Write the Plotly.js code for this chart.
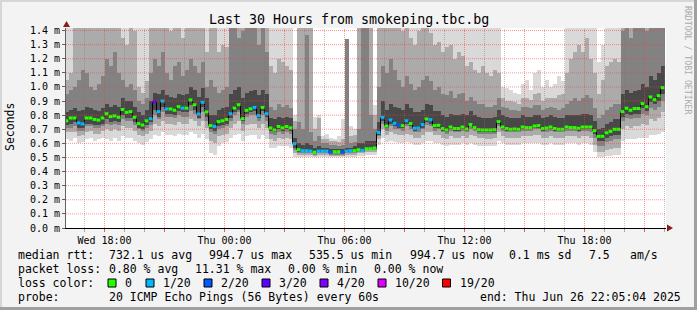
<!DOCTYPE html>
<html>
<head>
<meta charset="utf-8">
<script src="https://cdn.plot.ly/plotly-3.0.1.min.js"></script>
<style>
html,body{margin:0;padding:0;background:#f3f3f3;overflow:hidden;}
#chart{width:697px;height:310px;}
</style>
</head>
<body>
<div id="chart"></div>
<script>
// ================= DATA =================
// 12-minute RRD steps starting Wed 2025-06-25 16:00 (UTC-agnostic)
const firstColumnStart = Date.UTC(2025, 5, 25, 16, 0, 0);
const columnMinutes = 12;

// median RTT per step, microseconds
const medianUs = [
 760,780,780,745,738,780,780,770,765,780,
 810,790,795,785,840,820,825,785,740,730,
 760,775,895,825,900,844,844,835,860,850,
 850,908,874,808,891,823,726,720,754,760,
 770,810,850,874,775,834,845,855,797,855,
 810,709,695,720,710,720,710,598,555,548,
 548,545,537,545,545,545,537,541,541,537,
 545,548,548,555,550,562,562,567,678,785,
 723,766,742,730,726,760,740,707,709,733,
 773,768,726,728,705,695,716,705,705,716,
 702,733,712,697,695,695,695,697,754,716,
 705,700,702,700,716,712,712,723,726,705,
 709,716,705,700,700,716,712,712,707,716,
 716,716,690,650,650,675,685,700,700,825,
 849,835,847,847,882,860,929,910,938,995];

// packet loss class per step (index into lossLabels)
const lossLevel = [
 0,0,0,1,1,0,0,0,0,0,
 0,0,0,0,0,0,0,0,0,0,
 0,1,3,1,1,1,0,0,0,1,
 0,0,0,1,1,0,0,1,0,0,
 0,1,0,0,0,0,0,1,1,0,
 1,0,0,0,0,0,0,1,0,1,
 1,1,0,1,1,1,2,0,0,2,
 1,1,0,0,1,0,0,0,1,1,
 0,1,1,2,0,1,0,1,1,1,
 0,1,0,0,0,0,0,0,0,0,
 0,0,0,0,0,0,0,0,0,0,
 0,0,0,0,0,0,0,0,0,0,
 0,0,0,0,0,0,0,0,0,0,
 0,0,0,0,0,0,0,0,0,0,
 0,0,0,0,0,0,0,0,0,0];
const lossLabels = ['0','1/20','2/20','3/20','4/20','10/20','19/20'];
const lossColors = ['#26ff00','#00b8ff','#0059ff','#5e00ff','#7e00ff','#dd00ff','#ff0000'];

// smoke: sorted-ping band edges per step, units of 10 microseconds
const smokeMin = [
 63,62,64,60,61,63,64,62,63,64, 63,62,64,62,65,64,64,62,60,59,
 61,63,66,65,68,66,66,65,67,66, 66,68,67,64,67,63,53,52,58,60,
 61,64,66,67,62,65,66,66,63,66, 63,57,57,58,58,58,57,50,50,50,
 50,50,50,50,50,50,50,50,50,50, 50,50,50,51,51,52,52,52,59,64,
 61,62,61,60,60,61,60,59,59,60, 62,62,60,60,59,58,59,59,59,60,
 59,60,59,58,58,58,58,58,62,60, 59,59,59,59,60,60,60,60,60,59,
 59,60,59,59,59,60,60,60,59,60, 60,59,54,50,50,51,51,52,52,62,
 63,63,63,64,64,64,66,66,67,68];
const smokeLow2 = [
 68,68,68,65,66,68,69,67,67,69, 70,69,70,69,72,71,71,69,66,65,
 67,69,74,72,76,74,74,73,75,74, 74,77,76,72,76,71,62,60,65,66,
 67,71,74,76,69,73,74,74,71,74, 71,63,62,64,63,64,63,53,52,52,
 52,52,51,52,52,52,51,51,51,51, 52,52,52,53,53,54,54,54,63,70,
 66,68,67,66,66,67,66,64,64,66, 68,68,66,66,64,63,65,64,64,65,
 64,66,65,64,64,63,63,64,68,65, 64,64,64,64,65,65,65,66,66,64,
 64,65,64,64,64,65,65,65,64,65, 65,64,59,54,54,55,56,57,57,70,
 72,71,72,72,74,73,77,76,78,82];
const smokeLow3 = [
 71,71,72,69,69,72,72,71,71,72, 74,73,74,73,77,76,76,73,70,69,
 71,73,80,77,82,79,79,78,80,79, 79,83,81,77,82,76,68,67,70,71,
 72,76,80,82,74,79,80,80,76,80, 76,67,66,68,67,68,67,55,53,53,
 53,53,52,53,53,53,52,52,52,52, 53,53,53,54,54,55,55,55,65,74,
 69,72,70,70,69,72,70,68,68,70, 73,72,69,70,68,67,69,68,68,69,
 68,70,69,67,67,67,67,67,72,69, 68,68,68,68,69,69,69,70,70,68,
 68,69,68,68,68,69,69,69,68,69, 69,68,64,58,58,61,62,63,63,76,
 78,77,78,78,81,80,85,84,86,90];
const smokeLow4 = [
 73,74,75,71,71,74,74,73,73,74, 77,75,76,75,80,78,78,75,71,70,
 73,75,84,79,86,81,81,80,83,82, 82,87,84,78,86,79,70,69,72,73,
 74,78,82,84,76,81,82,83,78,83, 79,69,68,70,69,70,69,57,54,54,
 54,54,53,54,54,54,53,53,53,53, 54,54,54,55,55,56,56,56,66,76,
 71,74,72,71,71,74,72,69,70,71, 75,74,71,71,69,68,70,69,69,70,
 69,72,70,68,68,68,68,68,74,70, 69,69,69,69,70,70,70,71,71,69,
 70,70,69,69,69,70,70,70,69,70, 70,70,67,62,62,64,65,66,66,79,
 81,80,81,81,85,83,89,88,90,95];
const smokeHigh4 = [
 82,84,85,83,84,86,85,84,83,85, 88,86,87,86,92,90,90,86,82,80,
 84,90,96,95,98,94,93,92,95,94, 95,100,98,93,99,92,80,80,84,85,
 86,95,98,100,92,96,97,98,94,98, 95,78,77,79,78,79,78,64,60,59,
 60,59,57,58,57,57,56,56,56,56, 57,57,58,60,60,62,62,62,75,90,
 84,88,86,85,84,88,85,82,82,84, 88,87,83,83,80,79,81,80,80,81,
 80,83,80,79,78,78,78,79,84,80, 79,78,78,78,80,79,79,80,80,78,
 79,80,79,78,78,80,80,80,80,81, 81,80,76,70,71,74,75,77,77,95,
 98,96,97,98,102,100,108,105,110,115];
const smokeHigh3 = [
 95,98,100,105,112,110,100,98,102,108, 120,115,125,110,105,100,102,98,90,88,
 92,110,120,115,125,110,105,115,118,108, 112,120,115,110,118,100,105,100,96,98,
 100,150,150,135,140,150,145,150,130,150, 125,86,84,88,86,87,85,70,75,70,
 137,68,62,65,60,60,59,59,58,59, 134,60,61,70,150,150,80,70,100,115,
 110,120,112,105,100,108,102,98,100,105, 108,104,98,100,95,94,97,92,95,96,
 90,93,90,88,88,86,86,87,92,86, 85,84,84,83,86,86,85,87,87,84,
 85,86,85,84,85,88,90,92,90,92, 94,92,85,78,80,84,86,88,88,140,
 150,135,150,145,150,140,150,150,150,150];
const smokeHigh2 = [
 105,110,150,150,150,150,150,150,150,150, 150,150,150,150,135,130,150,140,100,96,
 104,150,150,150,150,150,140,150,150,135, 150,150,150,150,150,125,150,150,125,130,
 128,150,150,150,150,150,150,150,150,150, 150,115,110,120,118,115,112,76,150,150,
 150,150,70,78,63,63,62,62,61,63, 134,65,66,150,150,150,150,80,150,150,
 150,150,150,150,140,150,135,130,140,150, 145,138,130,132,125,128,130,120,125,122,
 115,118,112,110,115,110,108,112,110,92, 90,90,89,88,92,92,91,95,96,90,
 92,92,92,94,95,110,120,125,130,125, 135,120,110,95,105,115,118,120,118,150,
 150,150,150,150,150,150,150,150,150,150];
const smokeMax = [
 150,150,150,150,150,150,150,150,150,150, 150,150,150,150,150,150,150,150,150,150,
 150,150,150,150,150,150,150,150,150,150, 150,150,150,150,150,150,150,150,150,150,
 150,150,150,150,150,150,150,150,150,150, 150,150,150,150,150,150,150,80,150,150,
 150,150,79,80,65,67,64,63,65,77, 134,72,70,150,150,150,150,87,150,150,
 150,150,150,150,150,150,150,150,150,150, 150,150,150,150,150,150,150,150,150,150,
 150,150,150,150,150,150,150,150,150,100, 99,98,96,95,102,105,98,110,112,100,
 105,100,102,108,104,150,150,150,150,150, 150,150,150,118,130,150,150,150,150,150,
 150,150,150,150,150,150,150,150,150,150];

// axis ticks
const xTickVals = ['2025-06-25 18:00','2025-06-25 21:00','2025-06-26 00:00','2025-06-26 03:00',
 '2025-06-26 06:00','2025-06-26 09:00','2025-06-26 12:00','2025-06-26 15:00',
 '2025-06-26 18:00','2025-06-26 21:00'];
const xTickText = ['Wed 18:00','','Thu 00:00','','Thu 06:00','','Thu 12:00','','Thu 18:00',''];
const yTickVals = [0,0.1,0.2,0.3,0.4,0.5,0.6,0.7,0.8,0.9,1.0,1.1,1.2,1.3,1.4];
const yTickText = ['0.0 m','0.1 m','0.2 m','0.3 m','0.4 m','0.5 m','0.6 m','0.7 m','0.8 m','0.9 m','1.0 m','1.1 m','1.2 m','1.3 m','1.4 m'];

// legend / statistics text
const titleText = 'Last 30 Hours from smokeping.tbc.bg';
const statRow1 = ['median rtt:','732.1 us avg','994.7 us max','535.5 us min','994.7 us now','0.1 ms sd','7.5','am/s'];
const statRow2 = ['packet loss:','0.80 % avg','11.31 % max','0.00 % min','0.00 % now'];
const statRow3 = ['loss color:'];
const statRow4 = ['probe:','20 ICMP Echo Pings (56 Bytes) every 60s','end: Thu Jun 26 22:05:04 2025'];

// ================= LAYOUT HELPERS =================
const W = 697, H = 310, ML = 66, MR = 31, MT = 28, MB = 82;
const PW = W - ML - MR, PH = H - MT - MB;
const px2x = p => (p - ML) / PW;
const px2y = p => (H - MB - p) / PH;
const FONT = 'DejaVu Sans Mono';

const N = medianUs.length;
const stepMs = columnMinutes * 60000;
const colStart = medianUs.map((_, i) => firstColumnStart + i * stepMs);
const colCenter = colStart.map(t => t + stepMs / 2);
const med = medianUs.map(v => v / 1000);

const bands = [
  {lo: smokeMin,  hi: smokeMax,   color: '#d9d9d9'},
  {lo: smokeLow2, hi: smokeHigh2, color: '#ababab'},
  {lo: smokeLow3, hi: smokeHigh3, color: '#828282'},
  {lo: smokeLow4, hi: smokeHigh4, color: '#484848'}
];
const traces = bands.map(b => ({
  type: 'bar', x: colCenter, width: stepMs,
  base: b.lo.map(v => v / 100),
  y: b.hi.map((v, i) => (v - b.lo[i]) / 100),
  marker: {color: b.color, line: {width: 0}},
  hoverinfo: 'skip', showlegend: false
}));

// black median step line
traces.push({
  type: 'scatter', mode: 'lines',
  x: colStart.concat([colStart[N - 1] + stepMs]),
  y: med.concat([med[N - 1]]),
  line: {shape: 'hv', color: '#000000', width: 1},
  hoverinfo: 'skip', showlegend: false
});
// colored median segments by loss
lossColors.forEach((c, L) => {
  const xs = [], ys = [];
  for (let i = 0; i < N; i++) {
    if (lossLevel[i] === L) {
      xs.push(colStart[i], colStart[i] + stepMs, null);
      ys.push(med[i], med[i], null);
    }
  }
  if (xs.length) traces.push({type: 'scatter', mode: 'lines', x: xs, y: ys,
    line: {color: c, width: 3}, hoverinfo: 'skip', showlegend: false, connectgaps: false});
});

// grid shapes (above traces like rrdtool)
const shapes = [];
const rangeStart = Date.UTC(2025, 5, 25, 16, 4, 30);
const rangeEnd = Date.UTC(2025, 5, 26, 22, 4, 30);
for (let t = Date.UTC(2025, 5, 25, 17, 0, 0); t < rangeEnd; t += 3600000) {
  const h = new Date(t).getUTCHours();
  const major = (h % 3 === 0);
  shapes.push({type: 'line', layer: 'above', xref: 'x', yref: 'paper', x0: t, x1: t, y0: 0, y1: 1,
    line: {color: major ? 'rgba(255,60,60,0.55)' : 'rgba(120,120,120,0.45)', width: 1, dash: '1px,1px'}});
}
yTickVals.forEach(v => {
  if (v > 0) shapes.push({type: 'line', layer: 'above', xref: 'paper', yref: 'y', x0: 0, x1: 1, y0: v, y1: v,
    line: {color: 'rgba(255,60,60,0.55)', width: 1, dash: '1px,1px'}});
});
// axis arrows
shapes.push({type: 'path', layer: 'above', xref: 'paper', yref: 'paper',
  path: `M ${px2x(63)} ${px2y(27)} L ${px2x(70)} ${px2y(27)} L ${px2x(66.5)} ${px2y(21)} Z`,
  fillcolor: '#8b1a1a', line: {width: 0}});
shapes.push({type: 'path', layer: 'above', xref: 'paper', yref: 'paper',
  path: `M ${px2x(667)} ${px2y(224.5)} L ${px2x(667)} ${px2y(231.5)} L ${px2x(673)} ${px2y(228)} Z`,
  fillcolor: '#8b1a1a', line: {width: 0}});
// image border (3D frame)
const rectPx = (x0, y0, x1, y1, col) => ({type: 'rect', layer: 'above', xref: 'paper', yref: 'paper',
  x0: px2x(x0), x1: px2x(x1), y0: px2y(y1), y1: px2y(y0), fillcolor: col, line: {width: 0}});
shapes.push(rectPx(0, 0, W, 2, '#d6d6d6'));
shapes.push(rectPx(0, 0, 2, H, '#d6d6d6'));
shapes.push(rectPx(W - 3, 0, W, H, '#a0a0a0'));
shapes.push(rectPx(0, H - 3, W, H, '#a0a0a0'));
// loss color squares
const squareX = [108, 146, 204, 262, 320, 378, 442.5];
const squareY = 279;
lossColors.forEach((c, i) => {
  shapes.push({type: 'rect', layer: 'above', xref: 'paper', yref: 'paper',
    x0: px2x(squareX[i]), x1: px2x(squareX[i] + 8), y0: px2y(squareY + 8), y1: px2y(squareY),
    fillcolor: c, line: {color: '#000000', width: 1}});
});

// annotations
const ann = [];
const txt = (s, xp, yp, extra) => Object.assign({text: s, xref: 'paper', yref: 'paper',
  x: px2x(xp), y: px2y(yp), xanchor: 'left', yanchor: 'middle', showarrow: false,
  font: {family: FONT, size: 11.5, color: '#000'}}, extra || {});
const row1X = [16, 107, 207, 307, 407.5, 506.5, 587, 628];
statRow1.forEach((s, i) => ann.push(txt(s, row1X[i], 255)));
const row2X = [16, 107, 193, 286, 372];
statRow2.forEach((s, i) => ann.push(txt(s, row2X[i], 269)));
statRow3.forEach(s => ann.push(txt(s, 16, 283)));
lossLabels.forEach((s, i) => ann.push(txt(s, squareX[i] + 15, 283)));
const row4X = [16, 107, 478];
statRow4.forEach((s, i) => ann.push(txt(s, row4X[i], 297)));
ann.push(txt('Seconds', 10, 127, {xanchor: 'center', textangle: -90}));
ann.push(txt('RRDTOOL / TOBI OETIKER', 688, 60, {xanchor: 'center', textangle: 90,
  font: {family: FONT, size: 8.2, color: '#aaaaaa'}}));
ann.push(txt(titleText, 348.5, 19, {xanchor: 'center', font: {family: FONT, size: 13.3, color: '#000'}}));

const layout = {
  width: W, height: H, autosize: false,
  margin: {l: ML, r: MR, t: MT, b: MB, pad: 0},
  paper_bgcolor: '#f3f3f3', plot_bgcolor: '#ffffff',
  barmode: 'overlay', bargap: 0, showlegend: false,
  xaxis: {type: 'date', range: [rangeStart, rangeEnd], showgrid: false, zeroline: false,
    showline: true, linecolor: '#000000', linewidth: 1,
    tickmode: 'array', tickvals: xTickVals, ticktext: xTickText,
    ticks: 'outside', ticklen: 3, tickcolor: 'rgba(255,60,60,0.7)',
    tickfont: {family: FONT, size: 10, color: '#000'},
    minor: {tickmode: 'linear', tick0: '2025-06-25 00:00', dtick: 3600000, ticks: 'outside', ticklen: 3,
      tickcolor: 'rgba(120,120,120,0.6)', showgrid: false},
    fixedrange: true},
  yaxis: {range: [0, 1.418], showgrid: false, zeroline: false,
    showline: true, linecolor: '#606060', linewidth: 1,
    tickmode: 'array', tickvals: yTickVals, ticktext: yTickText,
    ticks: 'outside', ticklen: 3, tickcolor: '#606060',
    tickfont: {family: FONT, size: 10, color: '#000'}, fixedrange: true},
  shapes: shapes,
  annotations: ann
};

Plotly.newPlot('chart', traces, layout, {displayModeBar: false, staticPlot: true});
</script>
</body>
</html>
